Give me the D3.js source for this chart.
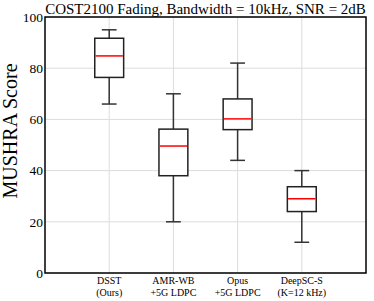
<!DOCTYPE html>
<html>
<head>
<meta charset="utf-8">
<script src="https://cdn.jsdelivr.net/npm/d3@7"></script>
<style>
  body { margin: 0; background: #fff; }
  text { font-family: "Liberation Serif", "Times New Roman", serif; fill: #000; }
</style>
</head>
<body>
<div id="chart"></div>
<script>
// box plot stats
const categories = [['DSST', '(Ours)'], ['AMR-WB', '+5G LDPC'], ['Opus', '+5G LDPC'], ['DeepSC-S', '(K=12 kHz)']];
const whiskerLow = [66, 20, 44, 12];
const q1 = [76.4, 38, 56, 24];
const median = [84.8, 49.6, 60.2, 29];
const q3 = [91.7, 56.2, 68, 33.7];
const whiskerHigh = [95, 70, 82, 40];
const yTicks = [0, 20, 40, 60, 80, 100];

const serif = '"Liberation Serif", "Times New Roman", serif';
const width = 374, height = 301;
const margin = { top: 17, right: 8, bottom: 28, left: 45 };

const svg = d3.select('#chart').append('svg').attr('width', width).attr('height', height);

const x = d3.scaleLinear().domain([0, 5]).range([margin.left, width - margin.right]);
const y = d3.scaleLinear().domain([0, 100]).range([height - margin.bottom, margin.top]);

// grid
svg.append('g').selectAll('line').data(yTicks).enter().append('line')
  .attr('x1', x(0)).attr('x2', x(5))
  .attr('y1', d => y(d)).attr('y2', d => y(d))
  .attr('stroke', '#dcdcdc').attr('stroke-width', 1);
svg.append('g').selectAll('line').data(categories).enter().append('line')
  .attr('x1', (d, i) => x(i + 1)).attr('x2', (d, i) => x(i + 1))
  .attr('y1', y(0)).attr('y2', y(100))
  .attr('stroke', '#dcdcdc').attr('stroke-width', 1);

// y axis labels
const yAxis = svg.append('g').attr('transform', `translate(${margin.left},0)`)
  .call(d3.axisLeft(y).tickValues(yTicks).tickSize(0).tickPadding(2));
yAxis.attr('font-family', serif);
yAxis.select('.domain').remove();
yAxis.selectAll('text').style('font-size', '13.5px').style('font-family', serif);

// x axis labels, two lines each
const boxW = 0.45, capW = 0.23;
const xl = svg.append('g');
categories.forEach((c, i) => {
  xl.append('text').attr('x', x(i + 1)).attr('y', y(0) + 11)
    .attr('text-anchor', 'middle').style('font-size', '10px').style('font-family', serif)
    .text(c[0]);
  xl.append('text').attr('x', x(i + 1)).attr('y', y(0) + 23)
    .attr('text-anchor', 'middle').style('font-size', '10px').style('font-family', serif)
    .text(c[1]);
});

// boxes
const boxes = svg.append('g').selectAll('g').data(categories).enter().append('g');
boxes.append('line')
  .attr('x1', (d, i) => x(i + 1)).attr('x2', (d, i) => x(i + 1))
  .attr('y1', (d, i) => y(whiskerHigh[i])).attr('y2', (d, i) => y(q3[i]))
  .attr('stroke', '#333').attr('stroke-width', 1.5);
boxes.append('line')
  .attr('x1', (d, i) => x(i + 1)).attr('x2', (d, i) => x(i + 1))
  .attr('y1', (d, i) => y(q1[i])).attr('y2', (d, i) => y(whiskerLow[i]))
  .attr('stroke', '#333').attr('stroke-width', 1.5);
boxes.append('line')
  .attr('x1', (d, i) => x(i + 1 - capW / 2)).attr('x2', (d, i) => x(i + 1 + capW / 2))
  .attr('y1', (d, i) => y(whiskerHigh[i])).attr('y2', (d, i) => y(whiskerHigh[i]))
  .attr('stroke', '#333').attr('stroke-width', 1.5);
boxes.append('line')
  .attr('x1', (d, i) => x(i + 1 - capW / 2)).attr('x2', (d, i) => x(i + 1 + capW / 2))
  .attr('y1', (d, i) => y(whiskerLow[i])).attr('y2', (d, i) => y(whiskerLow[i]))
  .attr('stroke', '#333').attr('stroke-width', 1.5);
boxes.append('rect')
  .attr('x', (d, i) => x(i + 1 - boxW / 2))
  .attr('width', x(boxW) - x(0))
  .attr('y', (d, i) => y(q3[i]))
  .attr('height', (d, i) => y(q1[i]) - y(q3[i]))
  .attr('fill', '#fff').attr('stroke', '#222').attr('stroke-width', 1.5);
boxes.append('line')
  .attr('x1', (d, i) => x(i + 1 - boxW / 2) + 0.75).attr('x2', (d, i) => x(i + 1 + boxW / 2) - 0.75)
  .attr('y1', (d, i) => y(median[i])).attr('y2', (d, i) => y(median[i]))
  .attr('stroke', '#ff0000').attr('stroke-width', 1.5);

// frame
svg.append('rect')
  .attr('x', x(0)).attr('y', y(100))
  .attr('width', x(5) - x(0)).attr('height', y(0) - y(100))
  .attr('fill', 'none').attr('stroke', '#000').attr('stroke-width', 1.5);

// title
svg.append('text').attr('x', (x(0) + x(5)) / 2).attr('y', 13.5)
  .attr('text-anchor', 'middle').style('font-size', '15px').style('font-family', serif)
  .text('COST2100 Fading, Bandwidth = 10kHz, SNR = 2dB');

// y label
svg.append('text')
  .attr('transform', 'translate(17,131) rotate(-90)')
  .attr('text-anchor', 'middle').style('font-size', '20px').style('font-family', serif)
  .text('MUSHRA Score');
</script>
</body>
</html>
